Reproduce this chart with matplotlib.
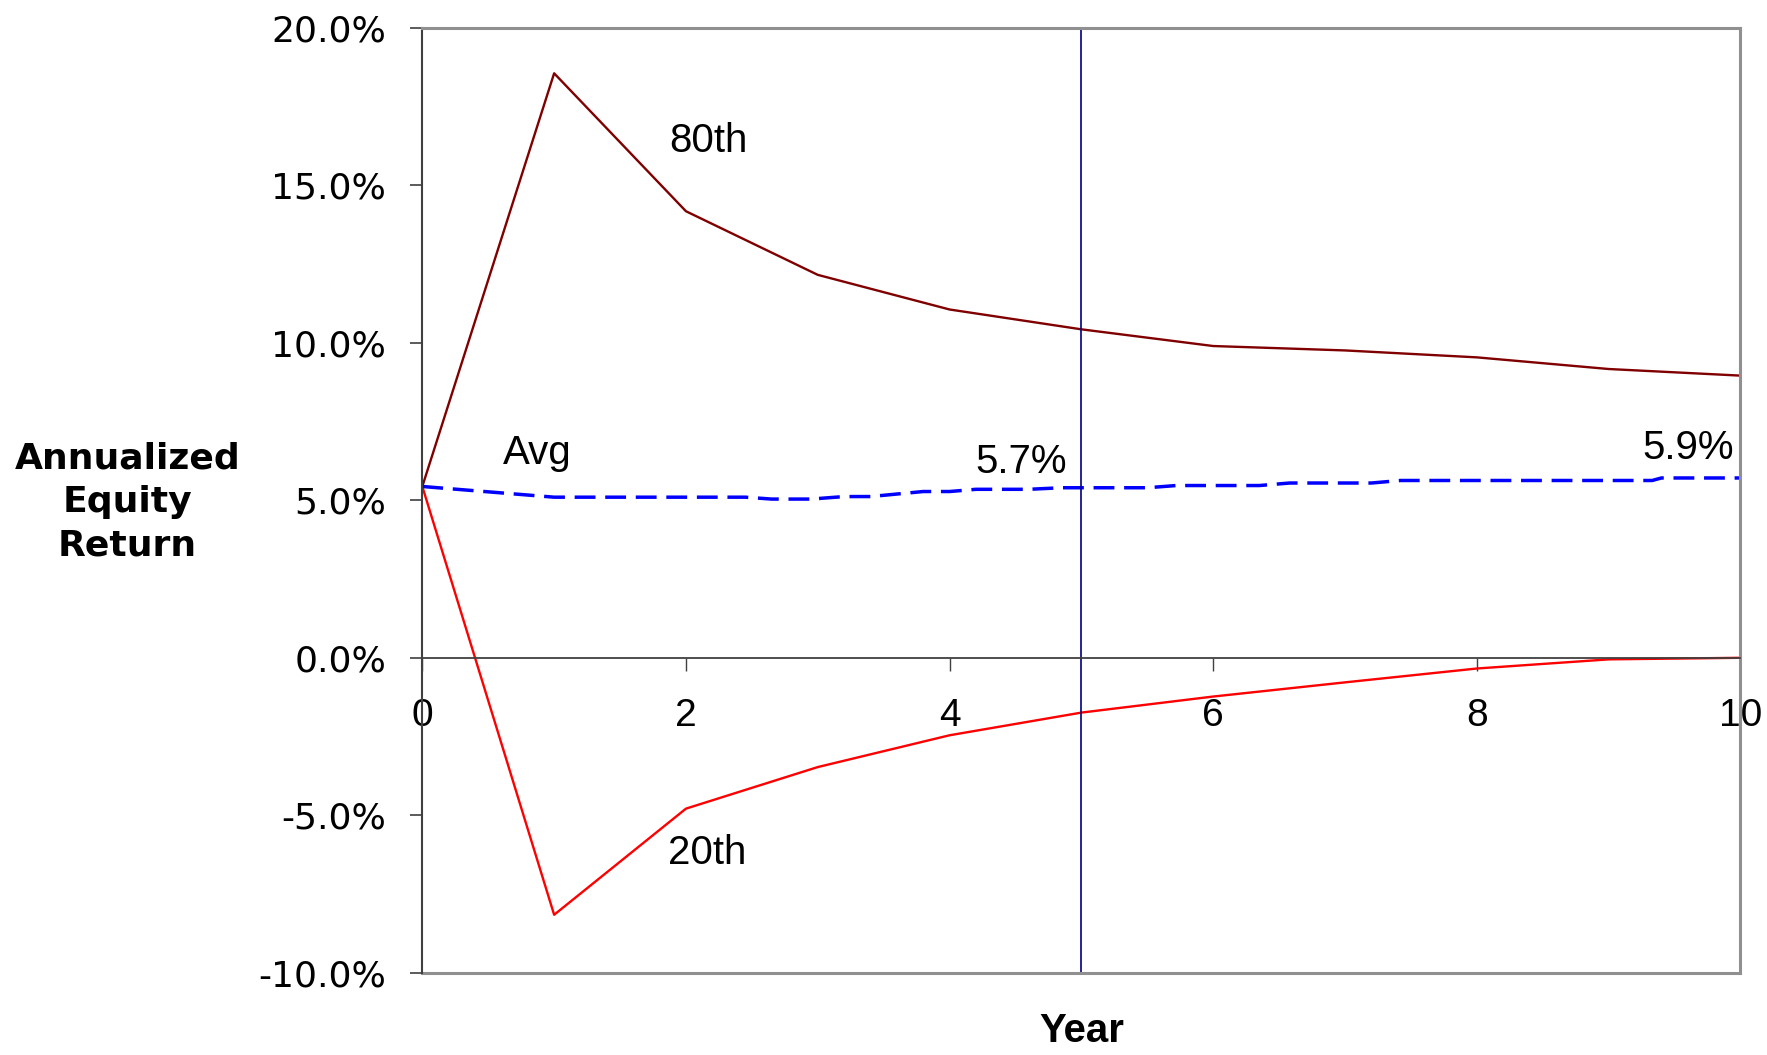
import matplotlib
matplotlib.use("Agg")
import matplotlib.pyplot as plt
from matplotlib.ticker import FuncFormatter

# values (percent)
years = [0, 1, 2, 3, 4, 5, 6, 7, 8, 9, 10]
pct_80th = [5.44, 18.56, 14.18, 12.16, 11.06, 10.43, 9.90, 9.76, 9.54, 9.17, 8.96]
pct_20th = [5.44, -8.16, -4.79, -3.47, -2.46, -1.74, -1.23, -0.78, -0.34, -0.05, 0.0]

# the average line bends between whole years, so it keeps its own x values
avg_years = [0, 1.0, 2.45, 2.65, 2.95, 3.2, 3.4, 3.8, 4.0, 4.2, 4.6, 4.85,
             5.5, 5.72, 6.35, 6.58, 7.2, 7.42, 9.33, 9.4, 10]
avg_pct = [5.44, 5.10, 5.10, 5.04, 5.04, 5.12, 5.12, 5.28, 5.28, 5.35, 5.35, 5.40,
           5.40, 5.47, 5.47, 5.55, 5.55, 5.63, 5.63, 5.71, 5.71]

x_ticks = [0, 2, 4, 6, 8, 10]
y_ticks = [-10, -5, 0, 5, 10, 15, 20]
marker_year = 5

labels = ["80th", "20th", "Avg", "5.7%", "5.9%"]
label_pos = [(2.17, 16.4), (2.16, -6.2), (0.87, 6.5), (4.54, 6.22), (9.6, 6.65)]

plt.rcParams["font.family"] = ["Liberation Sans", "DejaVu Sans"]

fig = plt.figure(figsize=(17.67, 10.55), dpi=100)
ax = fig.add_axes([0.239, 0.078, 0.746, 0.8955])

ax.plot(years, pct_80th, color="#800000", lw=1.7)
ax.plot(years, pct_20th, color="#ff0000", lw=1.7)
ax.plot(avg_years, avg_pct, color="#0000ff", lw=2.5, dashes=(6, 2.8))
ax.axvline(marker_year, color="#000080", lw=1.2)

ax.set_xlim(0, 10)
ax.set_ylim(-10, 20)
ax.set_xticks(x_ticks)
ax.set_yticks(y_ticks)
ax.yaxis.set_major_formatter(FuncFormatter(lambda v, p: f"{v:.1f}%"))

# x axis sits on the zero line, frame keeps a grey bottom edge at -10%
ax.spines["bottom"].set_position(("data", 0))
ax.spines["bottom"].set_color("#404040")
ax.spines["bottom"].set_linewidth(1.3)
ax.axhline(-10, color="#909090", lw=2.2, clip_on=False)
for side in ["top", "right"]:
    ax.spines[side].set_color("#909090")
    ax.spines[side].set_linewidth(2.2)
ax.spines["left"].set_color("#404040")
ax.spines["left"].set_linewidth(1.5)

ax.tick_params(axis="y", direction="out", length=9, width=1.2, color="#404040",
               pad=17)
ax.tick_params(axis="x", direction="out", length=9, width=1.0, color="#404040",
               pad=20, labelsize=28)
for lab in ax.get_yticklabels():
    lab.set_family("DejaVu Sans")
    lab.set_fontsize(26)

for txt, (lx, ly) in zip(labels, label_pos):
    ax.text(lx, ly, txt, fontsize=29, ha="center", va="center")

fig.text(0.612, 0.023, "Year", fontsize=29, fontweight="bold",
         ha="center", va="center")
fig.text(0.072, 0.524, "Annualized\nEquity\nReturn", fontsize=26,
         fontweight="bold", family="DejaVu Sans", ha="center", va="center",
         linespacing=1.36)

fig.savefig("out.png", dpi=100)
